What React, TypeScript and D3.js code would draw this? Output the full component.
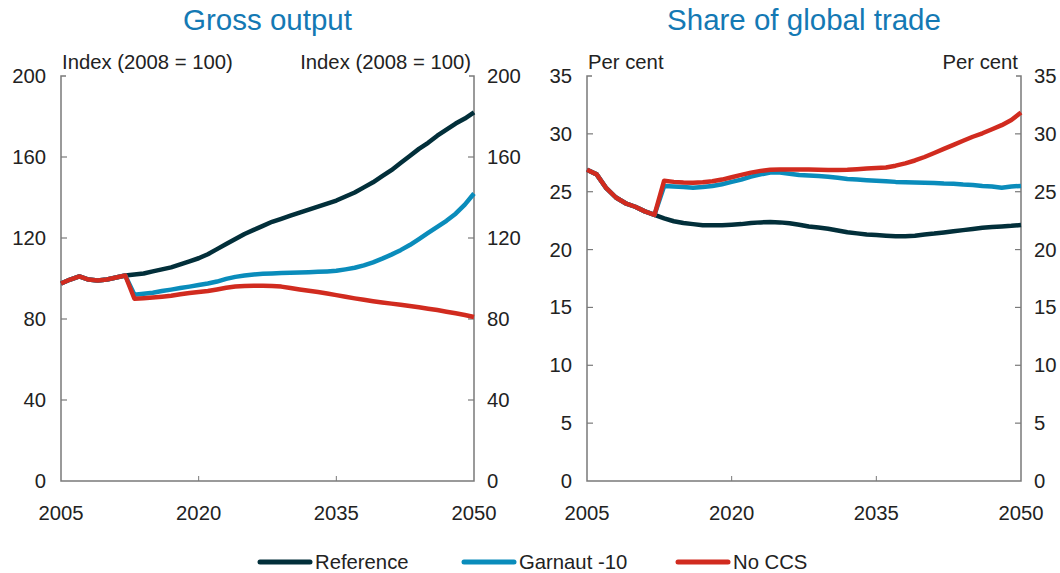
import React, { useEffect, useRef } from "react";
import * as d3 from "d3";

const years = d3.range(2005, 2051);

// gross output, index 2008 = 100
const outputReference = [97.5, 99.5, 101, 99.5, 99, 99.5, 100.5, 101.5, 102, 102.5, 103.5, 104.5, 105.5, 107, 108.5, 110, 112, 114.5, 117, 119.5, 122, 124, 126, 128, 129.5, 131, 132.5, 134, 135.5, 137, 138.5, 140.5, 142.5, 145, 147.5, 150.5, 153.5, 157, 160.5, 164, 167, 170.5, 173.5, 176.5, 179, 182];
const outputGarnaut = [97.5, 99.5, 101, 99.5, 99, 99.5, 100.5, 101.5, 92, 92.5, 93, 93.8, 94.5, 95.3, 96, 96.8, 97.5, 98.5, 99.8, 100.8, 101.5, 102, 102.3, 102.5, 102.7, 102.8, 103, 103.1, 103.3, 103.5, 103.8, 104.5, 105.3, 106.5, 108, 109.8, 111.8, 114, 116.5, 119.5, 122.5, 125.5, 128.5, 132, 136.5, 142];
const outputNoCCS = [97.5, 99.5, 101, 99.5, 99, 99.5, 100.5, 101.5, 90, 90.3, 90.6, 91, 91.5, 92.2, 92.8, 93.3, 93.8, 94.6, 95.4, 96, 96.3, 96.4, 96.4, 96.3, 96, 95.3, 94.6, 94, 93.3, 92.6, 91.8, 91, 90.2, 89.5, 88.8, 88.2, 87.6, 87, 86.4, 85.8, 85.1, 84.4, 83.6, 82.8, 82, 81];

// share of global trade, per cent
const tradeReference = [26.9, 26.5, 25.3, 24.5, 24.0, 23.7, 23.3, 23.0, 22.7, 22.45, 22.3, 22.2, 22.1, 22.1, 22.1, 22.15, 22.2, 22.3, 22.35, 22.38, 22.35, 22.28, 22.15, 22.0, 21.9, 21.8, 21.65, 21.5, 21.4, 21.3, 21.25, 21.2, 21.15, 21.15, 21.2, 21.3, 21.38, 21.48, 21.58, 21.68, 21.78, 21.88, 21.95, 22.0, 22.05, 22.12];
const tradeGarnaut = [26.9, 26.5, 25.3, 24.5, 24.0, 23.7, 23.3, 23.0, 25.5, 25.45, 25.4, 25.35, 25.4, 25.5, 25.65, 25.85, 26.05, 26.3, 26.5, 26.65, 26.65, 26.55, 26.45, 26.4, 26.35, 26.3, 26.2, 26.1, 26.05, 26.0, 25.95, 25.9, 25.85, 25.82, 25.8, 25.78, 25.75, 25.7, 25.68, 25.62, 25.58, 25.5, 25.45, 25.35, 25.45, 25.5];
const tradeNoCCS = [26.9, 26.5, 25.3, 24.5, 24.0, 23.7, 23.3, 23.0, 25.95, 25.85, 25.8, 25.78, 25.82, 25.9, 26.05, 26.25, 26.45, 26.65, 26.8, 26.9, 26.92, 26.92, 26.92, 26.92, 26.9, 26.88, 26.88, 26.9, 26.95, 27.0, 27.05, 27.1, 27.25, 27.45, 27.7, 28.0, 28.35, 28.7, 29.05, 29.4, 29.75, 30.05, 30.4, 30.75, 31.2, 31.85];

const seriesNames = ["Reference", "Garnaut -10", "No CCS"];
const seriesColors = ["#022f3a", "#0a8cbb", "#d12b1f"];
const xTicks = [2005, 2020, 2035, 2050];
const outputTicks = [0, 40, 80, 120, 160, 200];
const tradeTicks = [0, 5, 10, 15, 20, 25, 30, 35];

const font = "'Liberation Sans', Arial, sans-serif";
const labelSize = "20.3px";

const panels = [
  { title: "Gross output", unit: "Index (2008 = 100)", left: 61, right: 474, max: 200, ticks: outputTicks, series: [outputReference, outputGarnaut, outputNoCCS] },
  { title: "Share of global trade", unit: "Per cent", left: 587, right: 1021, max: 35, ticks: tradeTicks, series: [tradeReference, tradeGarnaut, tradeNoCCS] },
];

export default function App() {
  const ref = useRef<SVGSVGElement>(null);

  useEffect(() => {
    const svg = d3.select(ref.current);
    svg.selectAll("*").remove();
    const top = 76, bottom = 481;

    panels.forEach((p) => {
      const x = d3.scaleLinear().domain([2005, 2050]).range([p.left, p.right]);
      const y = d3.scaleLinear().domain([0, p.max]).range([bottom, top]);
      const g = svg.append("g");

      g.append("text")
        .attr("x", (p.left + p.right) / 2).attr("y", 30)
        .attr("text-anchor", "middle")
        .style("font-size", "29.5px").style("fill", "#1479b4")
        .text(p.title);

      // frame: left, bottom, right
      g.append("path")
        .attr("d", `M${p.left + 5},${top}H${p.left}V${bottom}H${p.right}V${top}H${p.right - 5}`)
        .attr("fill", "none").attr("stroke", "#7a7a7a").attr("stroke-width", 1.5);

      p.ticks.forEach((t) => {
        if (t === 0 || t === p.max) return;
        g.append("line").attr("x1", p.left).attr("x2", p.left + 6).attr("y1", y(t)).attr("y2", y(t))
          .attr("stroke", "#7a7a7a").attr("stroke-width", 1.2);
        g.append("line").attr("x1", p.right).attr("x2", p.right - 6).attr("y1", y(t)).attr("y2", y(t))
          .attr("stroke", "#7a7a7a").attr("stroke-width", 1.2);
      });
      p.ticks.forEach((t) => {
        g.append("text").attr("x", p.left - 15).attr("y", y(t) + 7).attr("text-anchor", "end")
          .style("font-size", labelSize).style("fill", "#222").text(t);
        g.append("text").attr("x", p.right + 13).attr("y", y(t) + 7).attr("text-anchor", "start")
          .style("font-size", labelSize).style("fill", "#222").text(t);
      });
      xTicks.forEach((t) => {
        if (t !== 2005 && t !== 2050) {
          g.append("line").attr("x1", x(t)).attr("x2", x(t)).attr("y1", bottom).attr("y2", bottom - 5)
            .attr("stroke", "#7a7a7a").attr("stroke-width", 1);
        }
        g.append("text").attr("x", x(t)).attr("y", 520).attr("text-anchor", "middle")
          .style("font-size", labelSize).style("fill", "#222").text(t);
      });

      g.append("text").attr("x", p.left + 1).attr("y", 69).style("font-size", labelSize).style("fill", "#222").text(p.unit);
      g.append("text").attr("x", p.right - 3).attr("y", 69).attr("text-anchor", "end")
        .style("font-size", labelSize).style("fill", "#222").text(p.unit);

      const line = d3.line<number>().x((_, i) => x(years[i])).y((d) => y(d));
      p.series.forEach((s, i) => {
        g.append("path").attr("d", line(s) as string)
          .attr("fill", "none").attr("stroke", seriesColors[i]).attr("stroke-width", 4.5)
          .attr("stroke-linejoin", "round");
      });
    });

    // legend
    const legendX = [260, 464, 678];
    seriesNames.forEach((n, i) => {
      svg.append("line").attr("x1", legendX[i]).attr("x2", legendX[i] + 50).attr("y1", 562).attr("y2", 562)
        .attr("stroke", seriesColors[i]).attr("stroke-width", 5).attr("stroke-linecap", "round");
      svg.append("text").attr("x", legendX[i] + 55).attr("y", 569)
        .style("font-size", labelSize).style("fill", "#222").text(n);
    });
  }, []);

  return (
    <svg ref={ref} width={1060} height={573}
      style={{ position: "absolute", left: 0, top: 0, background: "#fff", fontFamily: font }} />
  );
}
